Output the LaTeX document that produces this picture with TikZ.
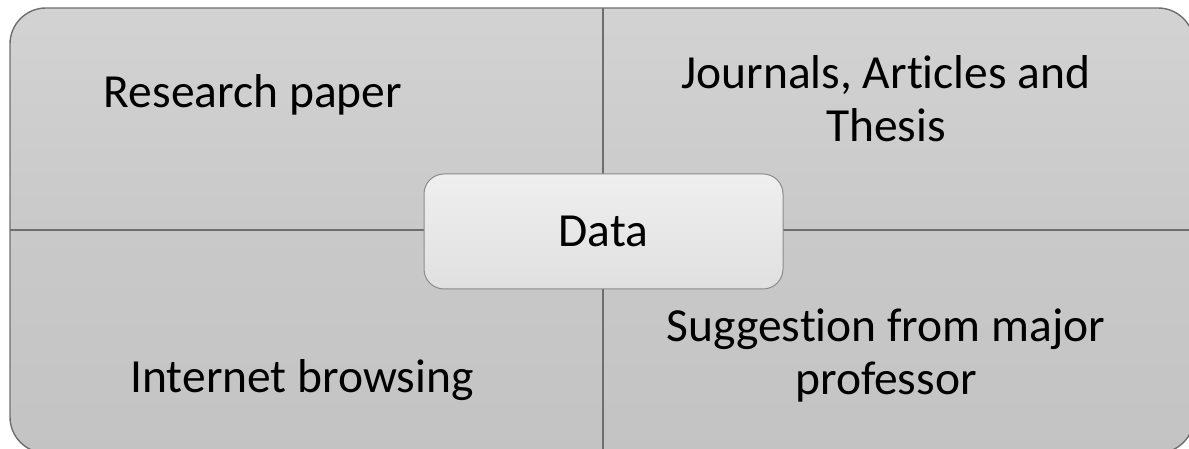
\documentclass[tikz,border=0pt]{standalone}
\usepackage{fontspec}
\setmainfont{Carlito}[Ligatures=NoCommon]
\definecolor{quadtop}{HTML}{D3D3D3}
\definecolor{quadmid}{HTML}{C9C9C9}
\definecolor{quadbot}{HTML}{C3C3C3}
\definecolor{edge}{HTML}{6E6E6E}
\definecolor{hubtop}{HTML}{EFEFEF}
\definecolor{hubbot}{HTML}{E0E0E0}
\tikzset{
  quadtext/.style={font=\fontsize{47.5}{53}\selectfont, align=center, text=black},
  hub/.style={rounded corners=20pt, draw=edge!80, line width=1pt,
    top color=hubtop, bottom color=hubbot, minimum width=359pt, minimum height=115pt,
    font=\fontsize{47.5}{53}\selectfont},
  divider/.style={draw=edge, line width=1.4pt}
}
\begin{document}
\begin{tikzpicture}[x=1pt,y=1pt]
\useasboundingbox (0,0) rectangle (1189,449);
% quadrant fills, clipped to the outer rounded frame
\begin{scope}
  \clip[rounded corners=36pt] (10,441) rectangle (1194,-4);
  \shade[top color=quadtop, bottom color=quadmid] (0,219) rectangle (1200,449);
  \shade[top color=quadmid, bottom color=quadbot] (0,-10) rectangle (1200,219);
\end{scope}
\draw[edge, line width=1.4pt, rounded corners=36pt] (10,441) rectangle (1194,-4);
% dividing lines between the quadrants
\coordinate (vtop) at (603,441);
\coordinate (vbot) at (603,-4);
\coordinate (hl) at (10,219);
\coordinate (hr) at (1194,219);
\path[divider] (vtop) -- (vbot);
\path[divider] (hl) -- (hr);
% quadrant labels
\node[quadtext] (tl) at (253,354) {Research paper};
\node[quadtext] (tr) at (886,350) {Journals, Articles and\\Thesis};
\node[quadtext] (bl) at (302,69) {Internet browsing};
\node[quadtext] (br) at (886,94) {Suggestion from major\\professor};
% central hub
\node[hub] (data) at (603.5,217.5) {Data};
\end{tikzpicture}
\end{document}
